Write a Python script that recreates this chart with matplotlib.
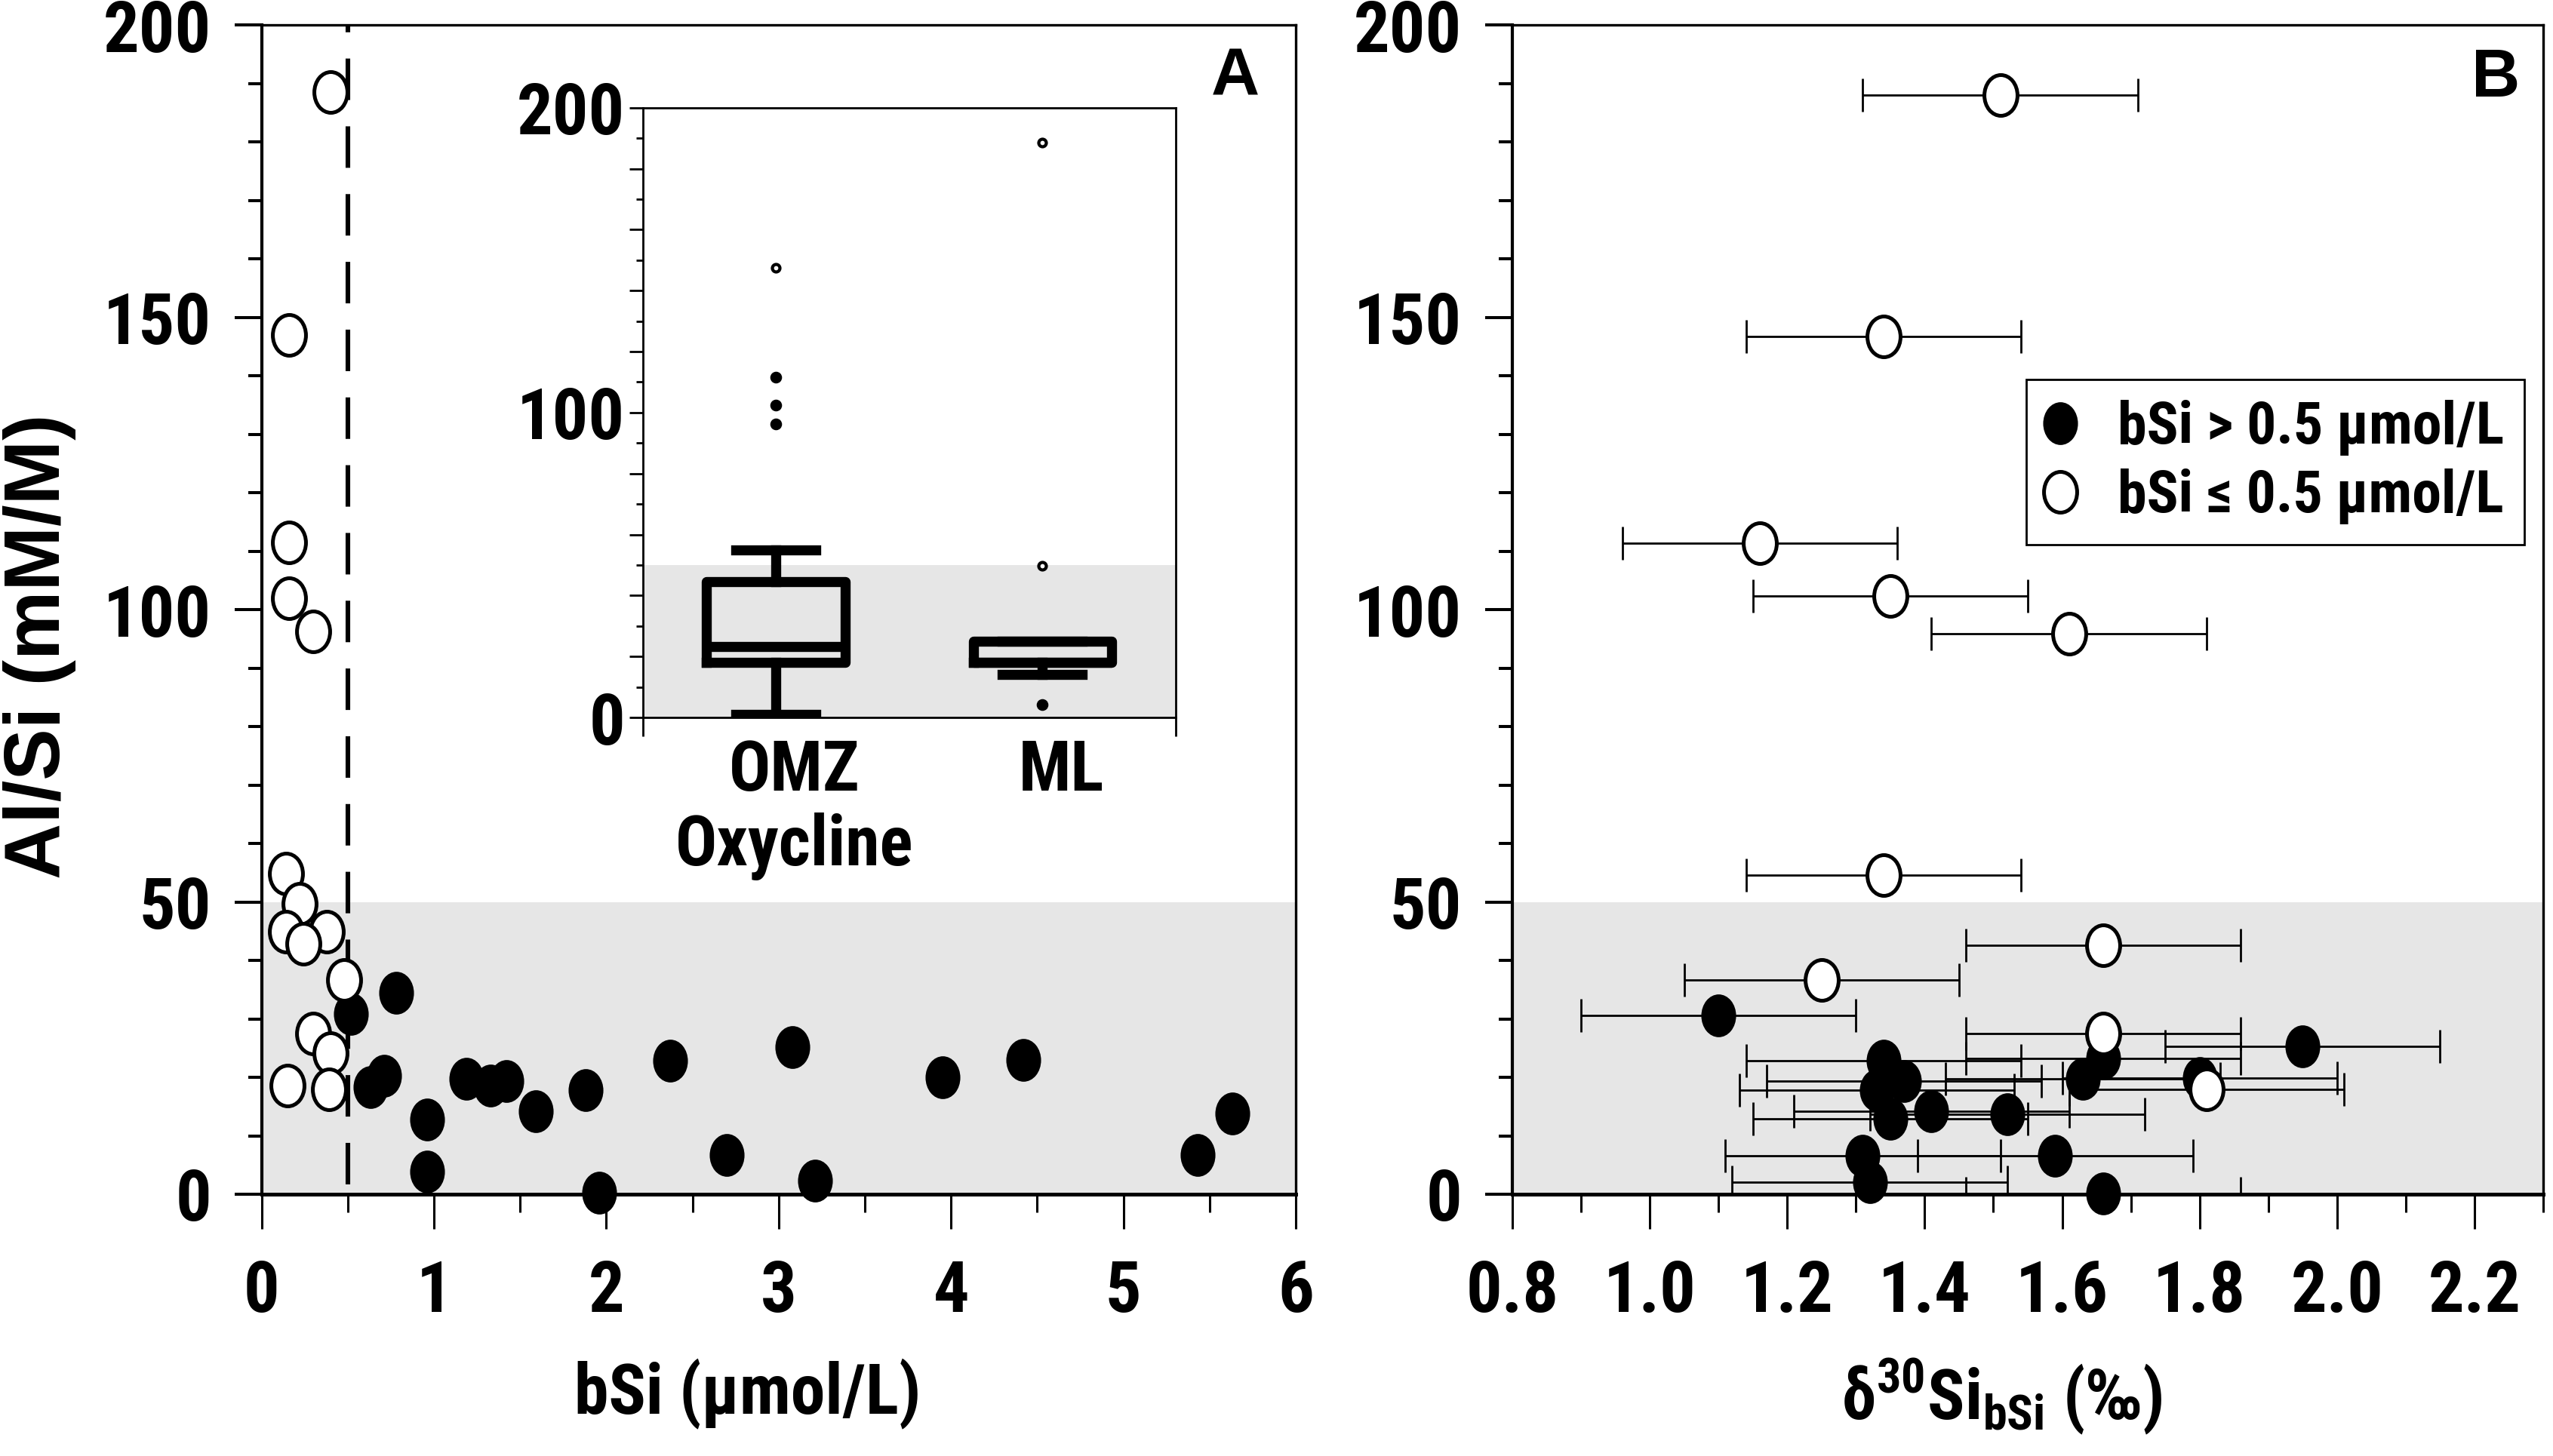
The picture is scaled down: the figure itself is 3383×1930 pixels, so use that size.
import matplotlib
matplotlib.use("Agg")
import matplotlib.pyplot as plt
from matplotlib import font_manager
from matplotlib.lines import Line2D
from matplotlib.markers import MarkerStyle
from matplotlib.transforms import Affine2D, blended_transform_factory
from matplotlib.ticker import MultipleLocator, FuncFormatter

# --- pick a condensed bold face if one is installed
names = {f.name for f in font_manager.fontManager.ttflist}
NARROW = "Liberation Sans"
for cand in ["Liberation Sans Narrow", "Roboto Condensed", "Open Sans Condensed"]:
    if cand in names:
        NARROW = cand
        break
WIDE = "Liberation Sans"
plt.rcParams["font.family"] = [NARROW, "DejaVu Sans"]
plt.rcParams["font.weight"] = "bold"

# --- panel A: Al/Si vs bSi
bsi_low = [0.40, 0.16, 0.16, 0.16, 0.30, 0.14, 0.22, 0.14, 0.38, 0.24,
           0.48, 0.30, 0.40, 0.15, 0.39]
alsi_low = [188.5, 147.0, 111.5, 102.0, 96.3, 54.8, 49.7, 44.9, 44.9, 42.9,
            36.7, 27.5, 24.1, 18.6, 17.9]
bsi_high = [0.52, 0.78, 0.63, 0.71, 0.96, 0.96, 1.19, 1.33, 1.42, 1.59,
            1.88, 1.96, 2.37, 2.70, 3.08, 3.21, 3.95, 4.42, 5.43, 5.63]
alsi_high = [30.9, 34.5, 18.3, 20.3, 12.8, 3.9, 19.8, 18.6, 19.3, 14.2,
             17.8, 0.2, 22.8, 6.7, 25.2, 2.3, 20.0, 23.0, 6.7, 13.8]
BSI_THRESHOLD = 0.5
SHADE_TOP = 50

# --- panel B: Al/Si vs d30Si (with error bars)
d30_low = [1.51, 1.34, 1.16, 1.35, 1.61, 1.34, 1.66, 1.25, 1.66, 1.81]
alsi_b_low = [188.0, 146.7, 111.4, 102.3, 95.9, 54.6, 42.6, 36.6, 27.5, 18.0]
err_low = [0.2] * len(d30_low)
d30_high = [1.10, 1.95, 1.34, 1.66, 1.63, 1.37, 1.80, 1.33, 1.41, 1.52,
            1.35, 1.31, 1.59, 1.32, 1.66]
alsi_b_high = [30.6, 25.3, 22.8, 23.2, 19.8, 19.3, 19.9, 17.8, 14.2, 13.7,
               12.9, 6.6, 6.6, 2.0, 0.1]
err_high = [0.2] * len(d30_high)

# --- inset box plot (OMZ/oxycline vs mixed layer)
groups = ["OMZ", "ML"]
box_q1 = [18.0, 18.0]
box_med = [23.3, 18.0]
box_q3 = [44.5, 25.0]
whisk_lo = [1.0, 14.2]
whisk_hi = [55.0, 25.0]
near_out = [[111.5, 102.5, 96.2], [4.2]]
far_out = [[147.5], [188.5, 49.8]]

GRAY = "#e6e6e6"
ELL = MarkerStyle("o", transform=Affine2D().scale(1.0, 1.23))
filled_kw = dict(marker=ELL, ls="none", ms=16.6, mfc="black", mec="black", mew=0, clip_on=False)
open_kw = dict(marker=ELL, ls="none", ms=15.8, mfc="white", mec="black", mew=1.8, clip_on=False)

fig = plt.figure(figsize=(3383 / 200, 1930 / 200), dpi=200)
axA = fig.add_axes([0.10248, 0.1798, 0.40507, 0.80295])
axB = fig.add_axes([0.59237, 0.1798, 0.40378, 0.80295])
axI = fig.add_axes([0.25176, 0.50725, 0.20878, 0.41881])


def style_main(ax):
    for side in ["left", "bottom"]:
        ax.spines[side].set_linewidth(1.5)
    ax.spines["bottom"].set_linewidth(1.8)
    for side in ["top", "right"]:
        ax.spines[side].set_linewidth(1.2)
    ax.set_ylim(0, 200)
    ax.yaxis.set_major_locator(MultipleLocator(50))
    ax.yaxis.set_minor_locator(MultipleLocator(10))
    ax.tick_params(axis="y", which="major", direction="out", length=13, width=1.45,
                   labelsize=34, pad=11)
    ax.tick_params(axis="y", which="minor", direction="out", length=6.5, width=1.45)
    ax.tick_params(axis="x", which="major", direction="out", length=16.5, width=1.1,
                   labelsize=34, pad=14)
    ax.tick_params(axis="x", which="minor", direction="out", length=8.6, width=1.1)
    ax.axhspan(0, SHADE_TOP, color=GRAY, lw=0, zorder=0)


# panel A
style_main(axA)
axA.set_xlim(0, 6)
axA.xaxis.set_major_locator(MultipleLocator(1))
axA.xaxis.set_minor_locator(MultipleLocator(0.5))
axA.plot([BSI_THRESHOLD, BSI_THRESHOLD], [200, 0], color="black", lw=2.2,
         ls=(7.4, (9, 5.7)), zorder=2)
axA.plot(bsi_high, alsi_high, zorder=3, **filled_kw)
axA.plot(bsi_low, alsi_low, zorder=4, **open_kw)
axA.text(0.9416, 0.955, "A", transform=axA.transAxes, ha="center", va="center",
         fontsize=32, fontweight="bold", family=[WIDE, "DejaVu Sans"])

# panel B
style_main(axB)
axB.set_xlim(0.8, 2.3)
axB.xaxis.set_major_locator(MultipleLocator(0.2))
axB.xaxis.set_minor_locator(MultipleLocator(0.1))
axB.xaxis.set_major_formatter(FuncFormatter(lambda v, p: f"{v:.1f}"))
axB.errorbar(d30_high, alsi_b_high, xerr=err_high, fmt="none", ecolor="black",
             elinewidth=1.0, capsize=8, capthick=1.0, zorder=2)
axB.errorbar(d30_low, alsi_b_low, xerr=err_low, fmt="none", ecolor="black",
             elinewidth=1.0, capsize=8, capthick=1.0, zorder=2)
axB.plot(d30_high, alsi_b_high, zorder=3, **filled_kw)
axB.plot(d30_low, alsi_b_low, zorder=4, **open_kw)
axB.text(0.954, 0.954, "B", transform=axB.transAxes, ha="center", va="center",
         fontsize=32, fontweight="bold", family=[WIDE, "DejaVu Sans"])
handles = [Line2D([], [], **filled_kw), Line2D([], [], **open_kw)]
leg = axB.legend(handles, ["bSi > 0.5 µmol/L", "bSi ≤ 0.5 µmol/L"],
                 loc="upper right", bbox_to_anchor=(0.982, 0.697), borderaxespad=0,
                 fontsize=28, frameon=True, fancybox=False, framealpha=1,
                 edgecolor="black", borderpad=0.35, handlelength=0.45,
                 handletextpad=0.75, labelspacing=0.22)
leg.get_frame().set_linewidth(1.0)

# inset
axI.set_facecolor("white")
axI.set_xlim(-0.5, 1.5)
axI.set_ylim(0, 200)
for side in axI.spines:
    axI.spines[side].set_linewidth(1.0)
axI.axhspan(0, SHADE_TOP, color=GRAY, lw=0, zorder=0)
stats = [dict(label=g, q1=a, med=m, q3=b, whislo=lo, whishi=hi)
         for g, a, m, b, lo, hi in zip(groups, box_q1, box_med, box_q3, whisk_lo, whisk_hi)]
line_kw = dict(color="black", lw=4.8)
axI.bxp(stats, positions=[0, 1], widths=0.52, showfliers=False, capwidths=0.3,
        boxprops=line_kw, whiskerprops=line_kw, capprops=line_kw, medianprops=line_kw,
        manage_ticks=False, zorder=3)
for i, (near, far) in enumerate(zip(near_out, far_out)):
    axI.plot([i] * len(near), near, ls="none", marker="o", ms=4.6, color="black", zorder=4)
    axI.plot([i] * len(far), far, ls="none", marker="o", ms=3.6, mfc="white",
             mec="black", mew=1.5, zorder=4)
axI.set_xticks([-0.5, 1.5])
axI.set_xticklabels([])
axI.tick_params(axis="x", direction="out", length=9, width=1.0)
axI.yaxis.set_major_locator(MultipleLocator(20))
axI.yaxis.set_minor_locator(MultipleLocator(10))
axI.yaxis.set_major_formatter(FuncFormatter(lambda v, p: f"{v:.0f}" if v % 100 == 0 else ""))
axI.tick_params(axis="y", which="major", direction="out", length=6.5, width=1.0,
                labelsize=34, pad=2)
axI.tick_params(axis="y", which="minor", direction="out", length=3.2, width=1.0)
tr = blended_transform_factory(axI.transData, axI.transAxes)
for i, g in enumerate(groups):
    axI.text(i + 0.07, -0.12, g, transform=tr, ha="center", va="baseline", fontsize=33)
axI.text(0.07, -0.243, "Oxycline", transform=tr, ha="center", va="baseline", fontsize=33)

# axis titles
fig.text(0.0155, 0.556, "Al/Si (mM/M)", rotation=90, ha="center", va="center",
         fontsize=37, fontweight="bold", family=[WIDE, "DejaVu Sans"])
fig.text(0.2929, 0.0295, "bSi (µmol/L)", ha="center", va="baseline", fontsize=33)
fig.text(0.7842, 0.0250, "$\\mathregular{\u03b4^{30}Si_{bSi}}$ (‰)", ha="center",
         va="baseline", fontsize=33)

fig.savefig("out.png", dpi=200)
